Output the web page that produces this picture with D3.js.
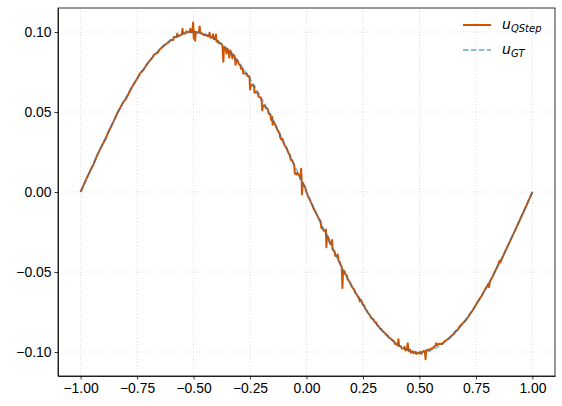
<!DOCTYPE html>
<html>
<head>
<meta charset="utf-8">
<script src="https://cdn.jsdelivr.net/npm/d3@7"></script>
<style>
  body { margin: 0; background: #fff; }
  svg { display: block; font-family: "DejaVu Sans", sans-serif; }
  .axis text { font-size: 13.9px; fill: #000; }
  .axis path, .axis line { stroke: #000; stroke-width: 0.8; }
  .grid line { stroke: #b0b0b0; stroke-opacity: 0.55; stroke-width: 0.8; stroke-dasharray: 1,2; }
</style>
</head>
<body>
<div id="chart"></div>
<script>
// tick labels
var xTicks = [-1, -0.75, -0.5, -0.25, 0, 0.25, 0.5, 0.75, 1];
var yTicks = [-0.1, -0.05, 0, 0.05, 0.1];

// ground truth, sampled every 0.05
var gtX = [-1, -0.95, -0.9, -0.85, -0.8, -0.75, -0.7, -0.65, -0.6, -0.55, -0.5,
  -0.45, -0.4, -0.35, -0.3, -0.25, -0.2, -0.15, -0.1, -0.05, 0,
  0.05, 0.1, 0.15, 0.2, 0.25, 0.3, 0.35, 0.4, 0.45, 0.5,
  0.55, 0.6, 0.65, 0.7, 0.75, 0.8, 0.85, 0.9, 0.95, 1];
var gtU = [0, 0.0156, 0.0309, 0.0454, 0.0588, 0.0707, 0.0809, 0.0891, 0.0951, 0.0988, 0.1,
  0.0988, 0.0951, 0.0891, 0.0809, 0.0707, 0.0588, 0.0454, 0.0309, 0.0156, 0,
  -0.0156, -0.0309, -0.0454, -0.0588, -0.0707, -0.0809, -0.0891, -0.0951, -0.0988, -0.1,
  -0.0988, -0.0951, -0.0891, -0.0809, -0.0707, -0.0588, -0.0454, -0.0309, -0.0156, 0];

// QStep solution as [x, u]
var qstep = [
  [-1.00, 0.0000], [-0.975, 0.0080], [-0.955, 0.0140], [-0.945, 0.0165], [-0.925, 0.0235],
  [-0.90, 0.0305], [-0.89, 0.0330], [-0.875, 0.0380], [-0.85, 0.0452], [-0.835, 0.0500],
  [-0.825, 0.0525], [-0.81, 0.0565], [-0.80, 0.0580], [-0.775, 0.0650], [-0.75, 0.0708],
  [-0.735, 0.0745], [-0.725, 0.0758], [-0.70, 0.0810], [-0.68, 0.0845], [-0.675, 0.0858],
  [-0.66, 0.0870], [-0.65, 0.0890], [-0.625, 0.0922], [-0.61, 0.0935], [-0.60, 0.0950],
  [-0.59, 0.0950], [-0.588, 0.0968], [-0.575, 0.0968], [-0.572, 0.0990], [-0.568, 0.0972],
  [-0.558, 0.0980], [-0.552, 0.0984], [-0.549, 0.1020], [-0.546, 0.0990], [-0.535, 0.0990],
  [-0.532, 0.1005], [-0.525, 0.0998], [-0.518, 0.1000], [-0.514, 0.1020], [-0.511, 0.0998],
  [-0.505, 0.1000], [-0.502, 0.1060], [-0.499, 0.0960], [-0.496, 0.1005], [-0.493, 0.0945],
  [-0.490, 0.1000], [-0.482, 0.0995], [-0.476, 0.1000], [-0.473, 0.1035], [-0.470, 0.0990],
  [-0.460, 0.0990], [-0.455, 0.0980], [-0.445, 0.0982], [-0.440, 0.0975], [-0.432, 0.0975],
  [-0.429, 0.0995], [-0.426, 0.0965], [-0.418, 0.0965], [-0.414, 0.0985], [-0.410, 0.0955],
  [-0.404, 0.0955], [-0.401, 0.0985], [-0.398, 0.0940], [-0.392, 0.0945], [-0.388, 0.0930],
  [-0.380, 0.0930], [-0.372, 0.0915], [-0.368, 0.0815], [-0.365, 0.0905], [-0.358, 0.0900],
  [-0.354, 0.0865], [-0.350, 0.0895], [-0.345, 0.0880], [-0.342, 0.0840], [-0.338, 0.0885],
  [-0.332, 0.0870], [-0.328, 0.0835], [-0.325, 0.0860], [-0.318, 0.0850], [-0.314, 0.0795],
  [-0.310, 0.0830], [-0.304, 0.0820], [-0.300, 0.0800], [-0.292, 0.0790], [-0.290, 0.0770],
  [-0.282, 0.0770], [-0.280, 0.0740], [-0.265, 0.0740], [-0.262, 0.0725], [-0.255, 0.0725],
  [-0.252, 0.0720], [-0.250, 0.0640], [-0.247, 0.0670], [-0.240, 0.0668], [-0.232, 0.0660],
  [-0.230, 0.0620], [-0.222, 0.0625], [-0.215, 0.0615], [-0.212, 0.0595], [-0.202, 0.0590],
  [-0.198, 0.0560], [-0.196, 0.0510], [-0.192, 0.0540], [-0.185, 0.0540], [-0.180, 0.0525],
  [-0.172, 0.0520], [-0.168, 0.0490], [-0.160, 0.0485], [-0.157, 0.0450], [-0.152, 0.0470],
  [-0.150, 0.0420], [-0.146, 0.0440], [-0.140, 0.0425], [-0.132, 0.0400], [-0.128, 0.0385],
  [-0.120, 0.0370], [-0.116, 0.0340], [-0.112, 0.0330], [-0.108, 0.0335], [-0.102, 0.0310],
  [-0.096, 0.0290], [-0.090, 0.0280], [-0.086, 0.0265], [-0.080, 0.0245], [-0.074, 0.0230],
  [-0.070, 0.0200], [-0.064, 0.0200], [-0.060, 0.0185], [-0.054, 0.0165], [-0.052, 0.0115],
  [-0.044, 0.0110], [-0.040, 0.0120], [-0.030, 0.0100], [-0.026, 0.0080], [-0.024, 0.0145],
  [-0.022, 0.0100], [-0.020, -0.0015], [-0.017, 0.0060], [-0.010, 0.0040], [-0.006, 0.0030],
  [0.000, 0.0000], [0.006, -0.0025], [0.012, -0.0040], [0.018, -0.0060], [0.025, -0.0080],
  [0.032, -0.0105], [0.040, -0.0125], [0.045, -0.0140], [0.052, -0.0160], [0.058, -0.0175],
  [0.062, -0.0180], [0.066, -0.0225], [0.072, -0.0225], [0.075, -0.0240], [0.082, -0.0245],
  [0.086, -0.0235], [0.088, -0.0345], [0.091, -0.0270], [0.098, -0.0290], [0.104, -0.0320],
  [0.110, -0.0330], [0.113, -0.0300], [0.116, -0.0360], [0.124, -0.0370], [0.128, -0.0400],
  [0.134, -0.0400], [0.138, -0.0390], [0.142, -0.0430], [0.148, -0.0440], [0.152, -0.0460],
  [0.156, -0.0465], [0.159, -0.0600], [0.162, -0.0490], [0.168, -0.0495], [0.172, -0.0515],
  [0.178, -0.0520], [0.182, -0.0545], [0.190, -0.0560], [0.196, -0.0575], [0.200, -0.0590],
  [0.205, -0.0600], [0.212, -0.0610], [0.216, -0.0630], [0.222, -0.0640], [0.226, -0.0650],
  [0.232, -0.0660], [0.236, -0.0685], [0.240, -0.0672], [0.246, -0.0690], [0.250, -0.0705],
  [0.256, -0.0710], [0.260, -0.0730], [0.266, -0.0740], [0.272, -0.0755], [0.278, -0.0765],
  [0.284, -0.0780], [0.288, -0.0790], [0.296, -0.0795], [0.300, -0.0810], [0.308, -0.0815],
  [0.312, -0.0830], [0.320, -0.0840], [0.326, -0.0855], [0.332, -0.0858], [0.338, -0.0870],
  [0.346, -0.0880], [0.352, -0.0890], [0.360, -0.0898], [0.366, -0.0912], [0.372, -0.0915],
  [0.380, -0.0925], [0.388, -0.0935], [0.392, -0.0950], [0.396, -0.0945], [0.400, -0.0955],
  [0.404, -0.0960], [0.407, -0.0920], [0.410, -0.0962], [0.418, -0.0965], [0.422, -0.0978],
  [0.430, -0.0978], [0.434, -0.0968], [0.438, -0.0990], [0.444, -0.0985], [0.448, -0.0945],
  [0.452, -0.0995], [0.458, -0.0985], [0.462, -0.1005], [0.468, -0.0995], [0.474, -0.1008],
  [0.480, -0.1000], [0.486, -0.1012], [0.492, -0.1003], [0.498, -0.1010], [0.504, -0.1000],
  [0.508, -0.1012], [0.514, -0.1000], [0.520, -0.0992], [0.524, -0.1000], [0.527, -0.1045],
  [0.530, -0.0990], [0.538, -0.0985], [0.544, -0.0992], [0.550, -0.0978], [0.558, -0.0978],
  [0.564, -0.0968], [0.570, -0.0962], [0.574, -0.0945], [0.578, -0.0958], [0.584, -0.0950],
  [0.592, -0.0948], [0.600, -0.0950], [0.610, -0.0935], [0.620, -0.0925], [0.630, -0.0915],
  [0.640, -0.0900], [0.650, -0.0890], [0.660, -0.0870], [0.670, -0.0860], [0.675, -0.0845],
  [0.685, -0.0830], [0.700, -0.0810], [0.710, -0.0790], [0.716, -0.0780], [0.725, -0.0760],
  [0.740, -0.0730], [0.750, -0.0705], [0.765, -0.0670], [0.775, -0.0650], [0.790, -0.0610],
  [0.800, -0.0588], [0.806, -0.0570], [0.808, -0.0595], [0.812, -0.0560], [0.825, -0.0525],
  [0.840, -0.0480], [0.850, -0.0450], [0.854, -0.0430], [0.858, -0.0440], [0.875, -0.0385],
  [0.900, -0.0310], [0.925, -0.0235], [0.950, -0.0158], [0.975, -0.0080], [1.000, 0.0000]
];

var margin = { top: 8, right: 7, bottom: 30, left: 58 },
  frame = { width: 562, height: 406 },
  width = frame.width - margin.left - margin.right,
  height = frame.height - margin.top - margin.bottom;

var qColor = '#d35400',
  gtColor = '#1f77b4';

var x = d3.scaleLinear().domain([-1.1, 1.1]).range([0, width]);
var y = d3.scaleLinear().domain([-0.115, 0.115]).range([height, 0]);

var svg = d3.select('#chart').append('svg')
  .attr('width', frame.width)
  .attr('height', frame.height)
  .append('g')
  .attr('transform', 'translate(' + margin.left + ',' + margin.top + ')');

// grid
svg.append('g')
  .attr('class', 'grid')
  .selectAll('line')
  .data(xTicks)
  .enter().append('line')
  .attr('x1', function (d) { return x(d); })
  .attr('x2', function (d) { return x(d); })
  .attr('y1', 0)
  .attr('y2', height);

svg.append('g')
  .attr('class', 'grid')
  .selectAll('line')
  .data(yTicks)
  .enter().append('line')
  .attr('x1', 0)
  .attr('x2', width)
  .attr('y1', function (d) { return y(d); })
  .attr('y2', function (d) { return y(d); });

// curves
var qLine = d3.line()
  .x(function (d) { return x(d[0]); })
  .y(function (d) { return y(d[1]); });

var gtLine = d3.line()
  .x(function (d, i) { return x(gtX[i]); })
  .y(function (d) { return y(d); })
  .curve(d3.curveNatural);

svg.append('path')
  .datum(qstep)
  .attr('fill', 'none')
  .attr('stroke', qColor)
  .attr('stroke-width', 2)
  .attr('stroke-linejoin', 'round')
  .attr('d', qLine);

svg.append('path')
  .datum(gtU)
  .attr('fill', 'none')
  .attr('stroke', gtColor)
  .attr('stroke-opacity', 0.5)
  .attr('stroke-width', 1.8)
  .attr('stroke-dasharray', '5.5,2.4')
  .attr('d', gtLine);

// axes
svg.append('g')
  .attr('class', 'axis axis--x')
  .attr('transform', 'translate(0,' + height + ')')
  .call(d3.axisBottom(x).tickValues(xTicks).tickFormat(d3.format('.2f'))
    .tickSizeInner(3.5).tickSizeOuter(0).tickPadding(3.5));

svg.append('g')
  .attr('class', 'axis axis--y')
  .call(d3.axisLeft(y).tickValues(yTicks).tickFormat(d3.format('.2f'))
    .tickSizeInner(3.5).tickSizeOuter(0).tickPadding(3));

// frame
svg.append('rect')
  .attr('width', width)
  .attr('height', height)
  .attr('fill', 'none')
  .attr('stroke', '#000')
  .attr('stroke-width', 0.8);

// legend
var legend = svg.append('g')
  .attr('transform', 'translate(' + (width - 92) + ',17)');

var items = [
  { sub: 'QStep', color: qColor, opacity: 1, dash: null, width: 2 },
  { sub: 'GT', color: gtColor, opacity: 0.5, dash: '5.5,2.4', width: 1.8 }
];

items.forEach(function (it, i) {
  var g = legend.append('g').attr('transform', 'translate(0,' + (i * 25) + ')');
  g.append('line')
    .attr('x1', 0).attr('x2', 28)
    .attr('y1', 0).attr('y2', 0)
    .attr('stroke', it.color)
    .attr('stroke-opacity', it.opacity)
    .attr('stroke-width', it.width)
    .attr('stroke-dasharray', it.dash);
  var t = g.append('text')
    .attr('x', 39)
    .attr('y', 4)
    .style('font-size', '14px')
    .style('font-style', 'italic');
  t.append('tspan').text('u');
  t.append('tspan')
    .attr('dy', 3)
    .style('font-size', '10px')
    .text(it.sub);
});
</script>
</body>
</html>
